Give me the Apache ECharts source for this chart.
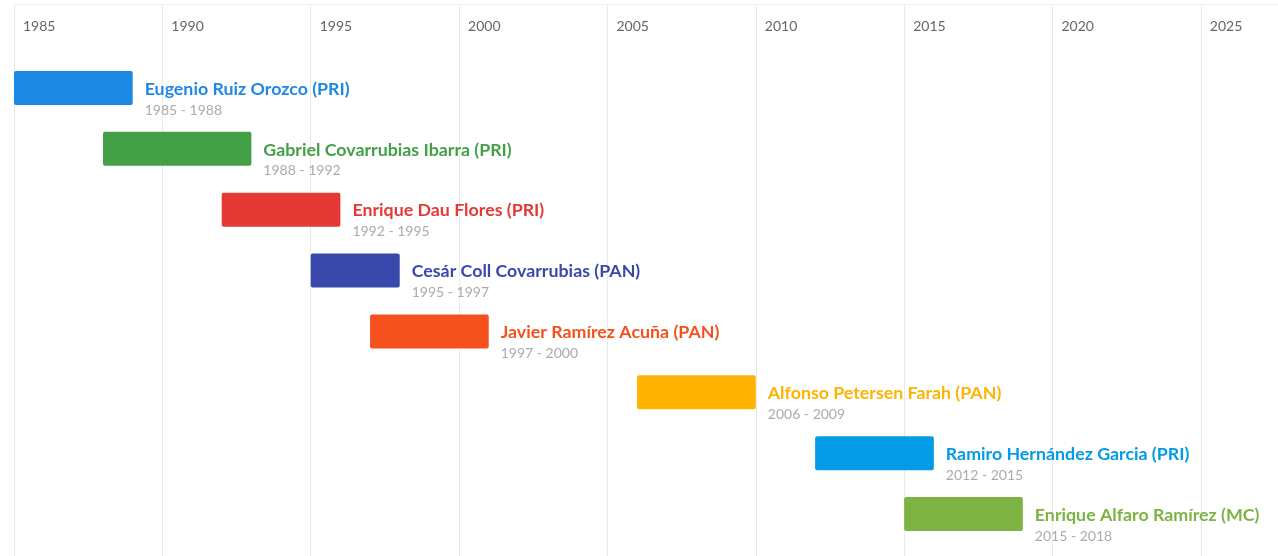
<!DOCTYPE html>
<html>
<head>
<meta charset="utf-8">
<script src="https://cdn.jsdelivr.net/npm/echarts@6/dist/echarts.min.js"></script>
<style>
  html, body { margin: 0; padding: 0; background: #fff; }
  #timelineChart { width: 1278px; height: 556px; }
</style>
</head>
<body>
<div id="timelineChart"></div>
<script>
// presidentes municipales de Guadalajara
var names = [
    'Eugenio Ruiz Orozco (PRI)',
    'Gabriel Covarrubias Ibarra (PRI)',
    'Enrique Dau Flores (PRI)',
    'Cesár Coll Covarrubias (PAN)',
    'Javier Ramírez Acuña (PAN)',
    'Alfonso Petersen Farah (PAN)',
    'Ramiro Hernández Garcia (PRI)',
    'Enrique Alfaro Ramírez (MC)'
];
var startYears = [1985, 1988, 1992, 1995, 1997, 2006, 2012, 2015];
var endYears = [1988, 1992, 1995, 1997, 2000, 2009, 2015, 2018];
var colors = ['#1e88e5', '#43a047', '#e53935', '#3949ab', '#f4511e', '#ffb300', '#039be5', '#7cb342'];
var tickYears = [1985, 1990, 1995, 2000, 2005, 2010, 2015, 2020, 2025];

var FONT = 'Lato, "Open Sans", sans-serif';

var seriesData = [];
for (var i = 0; i < names.length; i++) {
    seriesData.push({
        value: [i, startYears[i], endYears[i]],
        itemStyle: { color: colors[i] }
    });
}

var timelineChart = echarts.init(document.getElementById('timelineChart'));

var renderItem = function (params, api) {
    var row = api.value(0);
    var start = api.coord([api.value(1), row]);
    // el periodo cubre hasta el final del ultimo año
    var end = api.coord([api.value(2) + 1, row]);
    var h = 34;
    var color = colors[params.dataIndex];
    return {
        type: 'group',
        children: [
            {
                type: 'rect',
                shape: { x: start[0], y: start[1] - h / 2, width: end[0] - start[0], height: h, r: 2 },
                style: { fill: color }
            },
            {
                type: 'text',
                style: {
                    x: end[0] + 12,
                    y: start[1] + 1,
                    text: names[params.dataIndex],
                    fill: color,
                    font: 'bold 17.8px ' + FONT,
                    verticalAlign: 'middle'
                }
            },
            {
                type: 'text',
                style: {
                    x: end[0] + 12,
                    y: start[1] + 22,
                    text: api.value(1) + ' - ' + api.value(2),
                    fill: '#ababab',
                    font: '14px ' + FONT,
                    verticalAlign: 'middle'
                }
            }
        ]
    };
};

var option = {
    animation: false,
    grid: {
        left: 14,
        right: 0,
        top: 4,
        bottom: 0
    },
    xAxis: {
        type: 'value',
        position: 'top',
        min: 1985,
        max: 2027.6,
        interval: 5,
        axisLine: {
            show: true,
            onZero: false,
            lineStyle: { color: '#efefef' }
        },
        axisTick: { show: false },
        axisLabel: {
            inside: true,
            align: 'left',
            margin: 15,
            padding: [0, 0, 0, 9],
            color: '#666',
            fontSize: 14,
            fontFamily: FONT,
            showMaxLabel: false,
            formatter: function (v) {
                return tickYears.indexOf(v) >= 0 ? String(v) : '';
            }
        },
        splitLine: {
            show: true,
            lineStyle: { color: '#eaeaea' }
        }
    },
    yAxis: {
        type: 'value',
        inverse: true,
        min: -1.38,
        max: 7.69,
        show: false
    },
    series: [
        {
            type: 'custom',
            renderItem: renderItem,
            encode: { x: [1, 2], y: 0 },
            data: seriesData
        }
    ]
};

timelineChart.setOption(option);
</script>
</body>
</html>
